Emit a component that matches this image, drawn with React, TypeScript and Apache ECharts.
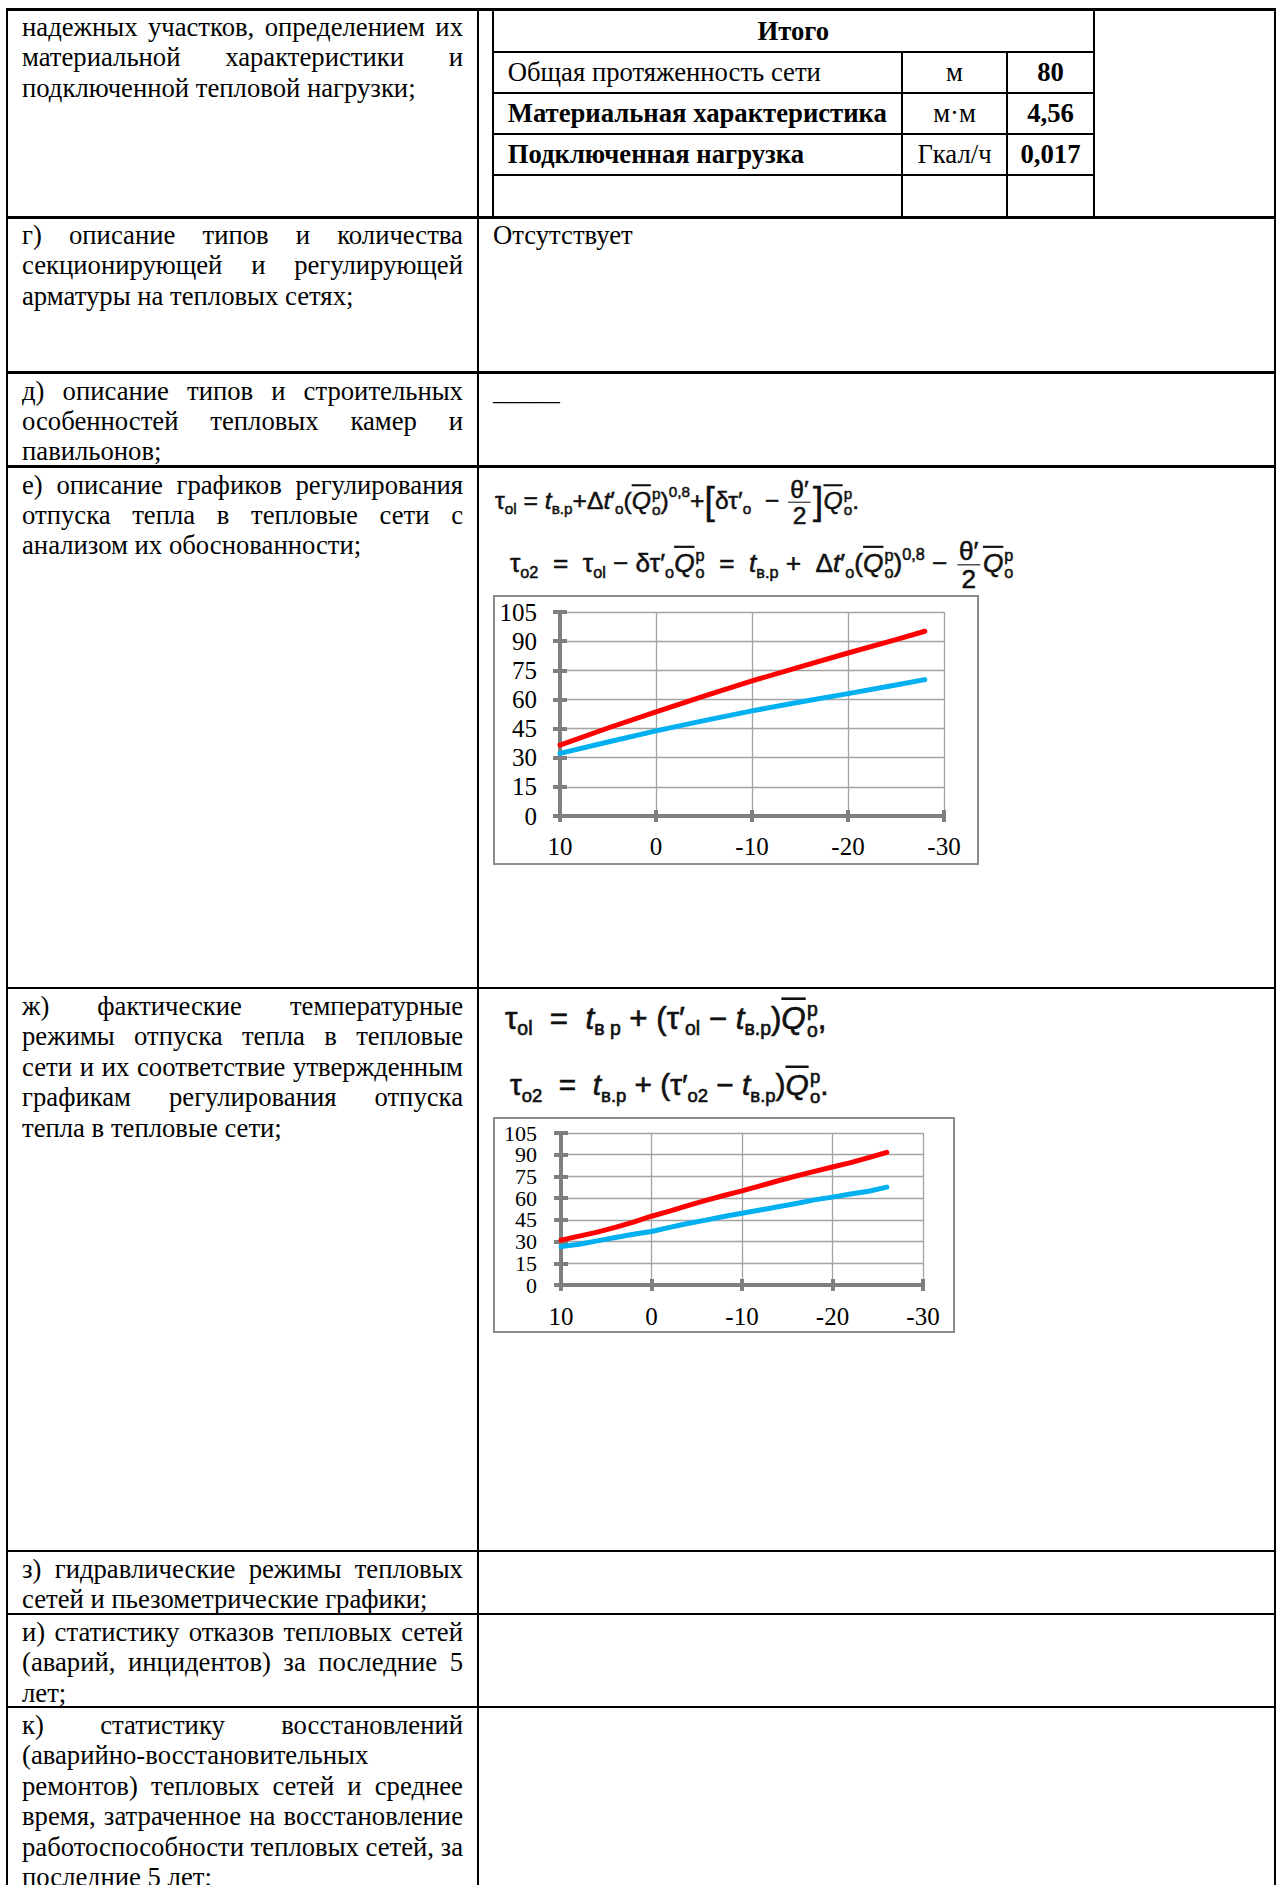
import React, { useEffect, useLayoutEffect, useRef } from "react";
import * as echarts from "echarts";

// ---------- chart data ----------
const outdoorTemps1 = [10, 5, 0, -5, -10, -15, -20, -25, -28];
const supplyTemps1 = [36.5, 45.3, 53.6, 61.7, 69.5, 76.8, 83.9, 90.8, 95.1];
const returnTemps1 = [32.2, 38.1, 43.8, 49.1, 54.1, 58.7, 63.0, 67.4, 70.2];

const outdoorTemps2 = [10, 8, 6, 4, 2, 0, -2, -4, -6, -8, -10, -12, -14, -16, -18, -20, -22, -24, -26];
const supplyTemps2 = [31, 33.8, 36.5, 39.8, 43.5, 47.5, 51, 54.8, 58.4, 61.8, 65, 68.5, 72, 75.3, 78.5, 81.5, 84.5, 88, 91.6];
const returnTemps2 = [26.5, 28.2, 30.5, 32.8, 35, 37, 39.8, 42.5, 44.8, 47.3, 49.6, 51.8, 54, 56.3, 58.8, 60.7, 62.8, 64.8, 67.6];

const yTickRange = { min: 0, max: 105, step: 15 };
const xTickRange = { min: -30, max: 10, step: 10 };

// ---------- document text ----------
const row1Lines = ["надежных участков, определением их", "материальной характеристики и", "подключенной тепловой нагрузки;"];
const rowGLines = ["г) описание типов и количества", "секционирующей и регулирующей", "арматуры на тепловых сетях;"];
const rowDLines = ["д) описание типов и строительных", "особенностей тепловых камер и", "павильонов;"];
const rowELines = ["е) описание графиков регулирования", "отпуска тепла в тепловые сети с", "анализом их обоснованности;"];
const rowZhLines = [
  "ж) фактические температурные",
  "режимы отпуска тепла в тепловые",
  "сети и их соответствие утвержденным",
  "графикам регулирования отпуска",
  "тепла в тепловые сети;",
];
const rowZLines = ["з) гидравлические режимы тепловых", "сетей и пьезометрические графики;"];
const rowILines = ["и) статистику отказов тепловых сетей", "(аварий, инцидентов) за последние 5", "лет;"];
const rowKLines = [
  "к) статистику восстановлений",
  "(аварийно-восстановительных",
  "ремонтов) тепловых сетей и среднее",
  "время, затраченное на восстановление",
  "работоспособности тепловых сетей, за",
  "последние 5 лет;",
];
const summaryTitle = "Итого";
const summaryLabels = ["Общая протяженность сети", "Материальная характеристика", "Подключенная нагрузка"];
const summaryUnits = ["м", "м·м", "Гкал/ч"];
const summaryValues = ["80", "4,56", "0,017"];
const summaryLabelBold = [false, true, true];
const absentText = "Отсутствует";
const dashText = "_____";

// ---------- layout ----------
const SERIF = "'Liberation Serif', 'Times New Roman', serif";
const SANS = "'Liberation Sans', Arial, sans-serif";
const FS = 26.7;
const LH = 30.4;
const TEXT_DY = 3;
const rowTops = [9, 217, 372.7, 466.5, 988, 1551, 1614, 1707];
const leftX = 7;
const divX = 477.7;
const rightX = 1274.5;

function HLine({ x1, x2, y, w = 2 }: { x1: number; x2: number; y: number; w?: number }) {
  return <div style={{ position: "absolute", left: x1, top: y - w / 2, width: x2 - x1, height: w, background: "#000" }} />;
}
function VLine({ x, y1, y2, w = 2 }: { x: number; y1: number; y2: number; w?: number }) {
  return <div style={{ position: "absolute", left: x - w / 2, top: y1, width: w, height: y2 - y1, background: "#000" }} />;
}

function Para({ x, y, w, lines }: { x: number; y: number; w: number; lines: string[] }) {
  return (
    <div style={{ position: "absolute", left: x, top: y, width: w, fontFamily: SERIF, fontSize: FS, lineHeight: LH + "px", color: "#000" }}>
      {lines.map((l, i) =>
        i < lines.length - 1 ? (
          <div key={i} style={{ display: "flex", justifyContent: "space-between", height: LH }}>
            {l.split(" ").map((wd, j) => (
              <span key={j} style={{ whiteSpace: "nowrap" }}>{wd}</span>
            ))}
          </div>
        ) : (
          <div key={i} style={{ whiteSpace: "nowrap", height: LH }}>{l}</div>
        )
      )}
    </div>
  );
}

function Fit({ x, cy, w, children, size = 24 }: { x: number; cy: number; w: number; children: React.ReactNode; size?: number }) {
  const ref = useRef<HTMLDivElement>(null);
  useLayoutEffect(() => {
    const el = ref.current!;
    const ow = el.offsetWidth;
    const oh = el.offsetHeight;
    const s = w / ow;
    el.style.transform = `scale(${s})`;
    el.style.top = `${cy - (oh * s) / 2}px`;
  }, []);
  return (
    <div
      ref={ref}
      style={{
        position: "absolute",
        left: x,
        top: cy - 20,
        whiteSpace: "nowrap",
        transformOrigin: "0 0",
        fontFamily: SANS,
        fontSize: size,
        lineHeight: 1.2,
        color: "#111",
        WebkitTextStroke: "0.5px #111",
      }}
    >
      {children}
    </div>
  );
}

const Sb = ({ children }: { children: React.ReactNode }) => (
  <span style={{ fontSize: "0.62em", verticalAlign: "-0.35em" }}>{children}</span>
);
const Sp = ({ children }: { children: React.ReactNode }) => (
  <span style={{ fontSize: "0.62em", verticalAlign: "0.75em" }}>{children}</span>
);
const I = ({ children }: { children: React.ReactNode }) => <span style={{ fontStyle: "italic" }}>{children}</span>;
const Qb = () => (
  <span style={{ fontStyle: "italic", textDecoration: "overline" }}>Q</span>
);
const SS = ({ sup, sub }: { sup: string; sub: string }) => (
  <span
    style={{
      display: "inline-flex",
      flexDirection: "column",
      verticalAlign: "middle",
      fontSize: "0.62em",
      lineHeight: 1.05,
      marginLeft: 1,
    }}
  >
    <span>{sup}</span>
    <span>{sub}</span>
  </span>
);
const Frac = ({ n, d }: { n: string; d: string }) => (
  <span
    style={{
      display: "inline-flex",
      flexDirection: "column",
      alignItems: "center",
      verticalAlign: "middle",
      lineHeight: 1.05,
      margin: "0 2px",
    }}
  >
    <span style={{ borderBottom: "1.5px solid #111", padding: "0 2px" }}>{n}</span>
    <span>{d}</span>
  </span>
);
const Br = ({ children }: { children: React.ReactNode }) => (
  <span style={{ fontSize: "1.55em", lineHeight: 1, verticalAlign: "-0.12em", WebkitTextStroke: "0.3px #111" }}>{children}</span>
);

// ---------- charts ----------
type ChartProps = {
  left: number;
  top: number;
  width: number;
  height: number;
  grid: { left: number; top: number; width: number; height: number };
  xs: number[];
  supply: number[];
  ret: number[];
  yFont: number;
  xFont: number;
  yMargin: number;
  xMargin: number;
  lineWidth: number;
};

function TempChart(p: ChartProps) {
  const ref = useRef<HTMLDivElement>(null);
  useEffect(() => {
    const chart = echarts.init(ref.current!, null, { renderer: "svg" });
    const axisColor = "#7f7f7f";
    const gridColor = "#a3a3a3";
    const tickStyle = { color: axisColor, width: 4 };
    const xBase = {
      type: "value",
      min: xTickRange.min,
      max: xTickRange.max,
      interval: xTickRange.step,
      inverse: true,
      position: "bottom",
    };
    const yBase = {
      type: "value",
      min: yTickRange.min,
      max: yTickRange.max,
      interval: yTickRange.step,
      position: "left",
    };
    // y labels are split over the two overlaid y axes (even / odd steps) so
    // that ECharts' overlap check never hides any of them
    const isEven = (v: number) => Math.round((v - yTickRange.min) / yTickRange.step) % 2 === 0;
    const yLabel = (even: boolean) => ({
      show: true,
      margin: p.yMargin,
      fontSize: p.yFont,
      fontFamily: SERIF,
      color: "#000",
      showMinLabel: true,
      showMaxLabel: true,
      hideOverlap: false,
      formatter: (v: number) => (isEven(v) === even ? String(v) : ""),
    });
    chart.setOption({
      animation: false,
      grid: { ...p.grid, containLabel: false },
      graphic: [
        {
          type: "rect",
          shape: { x: 1, y: 1, width: p.width - 2, height: p.height - 2 },
          style: { fill: "transparent", stroke: "#8c8c8c", lineWidth: 2 },
          silent: true,
        },
      ],
      xAxis: [
        {
          ...xBase,
          axisLine: { onZero: false, lineStyle: { color: axisColor, width: 4 } },
          axisTick: { show: true, length: 6, lineStyle: tickStyle },
          axisLabel: {
            margin: p.xMargin,
            fontSize: p.xFont,
            fontFamily: SERIF,
            color: "#000",
            showMinLabel: true,
            showMaxLabel: true,
            hideOverlap: false,
          },
          splitLine: { show: true, lineStyle: { color: gridColor, width: 1.3 } },
        },
        {
          ...xBase,
          axisLine: { show: false, onZero: false },
          axisTick: { show: true, inside: true, length: 6, lineStyle: tickStyle },
          axisLabel: { show: false },
          splitLine: { show: false },
        },
      ],
      yAxis: [
        {
          ...yBase,
          axisLine: { show: true, onZero: false, lineStyle: { color: axisColor, width: 4 } },
          axisTick: { show: true, length: 7, lineStyle: tickStyle },
          axisLabel: yLabel(true),
          splitLine: { show: true, lineStyle: { color: gridColor, width: 1.3 } },
        },
        {
          ...yBase,
          axisLine: { show: false, onZero: false },
          axisTick: { show: true, inside: true, length: 7, lineStyle: tickStyle },
          axisLabel: yLabel(false),
          splitLine: { show: false },
        },
      ],
      series: [
        {
          type: "line",
          xAxisIndex: 0,
          yAxisIndex: 0,
          data: p.xs.map((x, i) => [x, p.supply[i]]),
          showSymbol: false,
          lineStyle: { color: "#ff0000", width: p.lineWidth, cap: "round", join: "round" },
          itemStyle: { color: "#ff0000" },
        },
        {
          type: "line",
          xAxisIndex: 0,
          yAxisIndex: 0,
          data: p.xs.map((x, i) => [x, p.ret[i]]),
          showSymbol: false,
          lineStyle: { color: "#00b0f0", width: p.lineWidth, cap: "round", join: "round" },
          itemStyle: { color: "#00b0f0" },
        },
      ],
    });
    return () => chart.dispose();
  }, []);
  return <div ref={ref} style={{ position: "absolute", left: p.left, top: p.top, width: p.width, height: p.height }} />;
}

export default function App() {
  const innerL = 492.7;
  const innerR = 1094;
  const innerRows = [10, 52, 93, 134, 175, 217];
  const col1 = 902;
  const col2 = 1007;
  const cell = (x1: number, x2: number, y1: number, y2: number, content: React.ReactNode, bold: boolean, align: "center" | "left", key: string) => (
    <div
      key={key}
      style={{
        position: "absolute",
        left: x1,
        top: y1,
        width: x2 - x1,
        height: y2 - y1,
        display: "flex",
        alignItems: "center",
        justifyContent: align === "center" ? "center" : "flex-start",
        paddingLeft: align === "left" ? 15 : 0,
        boxSizing: "border-box",
        fontFamily: SERIF,
        fontSize: FS,
        fontWeight: bold ? "bold" : "normal",
        whiteSpace: "nowrap",
        color: "#000",
      }}
    >
      {content}
    </div>
  );

  const paras = [row1Lines, rowGLines, rowDLines, rowELines, rowZhLines, rowZLines, rowILines, rowKLines];

  return (
    <div style={{ position: "absolute", left: 0, top: 0, width: 1280, height: 1885, overflow: "hidden", background: "#fff" }}>
      {/* outer table */}
      <VLine x={leftX} y1={8} y2={1885} />
      <VLine x={divX} y1={8} y2={1885} />
      <VLine x={rightX} y1={8} y2={1885} />
      <HLine x1={leftX - 1} x2={rightX + 1} y={9} w={3} />
      {rowTops.slice(1).map((y, i) => (
        <HLine key={i} x1={leftX - 1} x2={rightX + 1} y={y} w={i === 0 ? 3 : 2.5} />
      ))}

      {/* left column texts */}
      {paras.map((lines, i) => (
        <Para key={i} x={22} y={rowTops[i] + TEXT_DY} w={441} lines={lines} />
      ))}

      {/* inner summary table */}
      <VLine x={innerL} y1={innerRows[0]} y2={217} />
      <VLine x={innerR} y1={innerRows[0]} y2={217} />
      <VLine x={col1} y1={innerRows[1]} y2={217} />
      <VLine x={col2} y1={innerRows[1]} y2={217} />
      {innerRows.slice(1, 5).map((y, i) => (
        <HLine key={"ir" + i} x1={innerL} x2={innerR} y={y} />
      ))}
      {cell(innerL, innerR, innerRows[0], innerRows[1], summaryTitle, true, "center", "title")}
      {summaryLabels.map((lab, i) =>
        cell(innerL, col1, innerRows[i + 1], innerRows[i + 2], lab, summaryLabelBold[i], "left", "l" + i)
      )}
      {summaryUnits.map((u, i) => cell(col1, col2, innerRows[i + 1], innerRows[i + 2], u, false, "center", "u" + i))}
      {summaryValues.map((v, i) => cell(col2, innerR, innerRows[i + 1], innerRows[i + 2], v, true, "center", "v" + i))}

      {/* right column plain texts */}
      <div style={{ position: "absolute", left: 493, top: rowTops[1] + TEXT_DY, fontFamily: SERIF, fontSize: FS, lineHeight: LH + "px", whiteSpace: "nowrap" }}>
        {absentText}
      </div>
      <div style={{ position: "absolute", left: 493, top: rowTops[2] + TEXT_DY, fontFamily: SERIF, fontSize: FS, lineHeight: LH + "px", whiteSpace: "nowrap" }}>
        {dashText}
      </div>

      {/* formulas, row е */}
      <Fit x={495} cy={502} w={364}>
        τ<Sb>ol</Sb> = <I>t</I><Sb>в.р</Sb>+Δ<I>t</I>′<Sb>o</Sb>(<Qb /><SS sup="p" sub="o" />)<Sp>0,8</Sp>+<Br>[</Br>δτ′<Sb>o</Sb>&nbsp; −{" "}
        <Frac n="θ′" d="2" />
        <Br>]</Br>
        <Qb />
        <SS sup="p" sub="o" />.
      </Fit>
      <Fit x={510} cy={565} w={503}>
        τ<Sb>o2</Sb> &nbsp;= &nbsp;τ<Sb>ol</Sb> − δτ′<Sb>o</Sb>
        <Qb />
        <SS sup="p" sub="o" /> &nbsp;= &nbsp;<I>t</I><Sb>в.р</Sb> + &nbsp;Δ<I>t</I>′<Sb>o</Sb>(<Qb /><SS sup="p" sub="o" />)<Sp>0,8</Sp> −{" "}
        <Frac n="θ′" d="2" />
        <Qb />
        <SS sup="p" sub="o" />
      </Fit>

      {/* formulas, row ж */}
      <Fit x={505} cy={1021} w={322}>
        τ<Sb>ol</Sb> &nbsp;= &nbsp;<I>t</I><Sb>в р</Sb> + (τ′<Sb>ol</Sb> − <I>t</I><Sb>в.р</Sb>)<Qb /><SS sup="p" sub="o" />,
      </Fit>
      <Fit x={510} cy={1088} w={319}>
        τ<Sb>o2</Sb> &nbsp;= &nbsp;<I>t</I><Sb>в.р</Sb> + (τ′<Sb>o2</Sb> − <I>t</I><Sb>в.р</Sb>)<Qb /><SS sup="p" sub="o" />.
      </Fit>

      {/* charts */}
      <TempChart
        left={493}
        top={595}
        width={486}
        height={270}
        grid={{ left: 67, top: 17, width: 384, height: 204 }}
        xs={outdoorTemps1}
        supply={supplyTemps1}
        ret={returnTemps1}
        yFont={25}
        xFont={25}
        yMargin={23}
        xMargin={18}
        lineWidth={5}
      />
      <TempChart
        left={493}
        top={1117}
        width={462}
        height={216}
        grid={{ left: 68, top: 16, width: 362, height: 152 }}
        xs={outdoorTemps2}
        supply={supplyTemps2}
        ret={returnTemps2}
        yFont={22}
        xFont={25}
        yMargin={24}
        xMargin={19}
        lineWidth={5}
      />
    </div>
  );
}
